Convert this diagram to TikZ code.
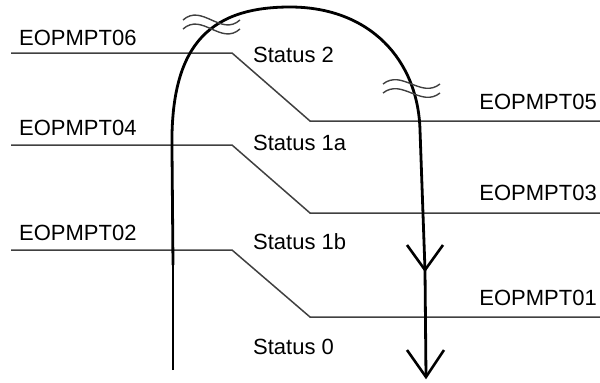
\documentclass[tikz,border=0pt]{standalone}
\usepackage{fontspec}
\setmainfont{Liberation Sans}
\begin{document}
\begin{tikzpicture}[x=1bp,y=-1bp,
  lbl/.style={inner sep=0pt,font=\fontsize{22bp}{26bp}\selectfont},
  border/.style={line width=1.5bp,draw=black!75},
  flow/.style={line width=2.8bp,draw=black,line join=round},
  thinflow/.style={line width=1.8bp,draw=black},
  barb/.style={line width=2.6bp,draw=black,line join=miter},
  wave/.style={line width=1.4bp,draw=black!75}]
\useasboundingbox (0,0) rectangle (600,382);
% boundary lines
\coordinate (a1) at (11,53);  \coordinate (b1) at (232,53);  \coordinate (c1) at (310,121); \coordinate (d1) at (600,121);
\coordinate (a2) at (11,145); \coordinate (b2) at (232,145); \coordinate (c2) at (310,213); \coordinate (d2) at (600,213);
\coordinate (a3) at (11,250); \coordinate (b3) at (232,250); \coordinate (c3) at (310,317); \coordinate (d3) at (600,317);
\draw[border] (a1) -- (b1) -- (c1) -- (d1);
\draw[border] (a2) -- (b2) -- (c2) -- (d2);
\draw[border] (a3) -- (b3) -- (c3) -- (d3);
% labels
\node[lbl,anchor=west] (p06) at (19,38) {EOPMPT06};
\node[lbl,anchor=west] (p04) at (19,128) {EOPMPT04};
\node[lbl,anchor=west] (p02) at (19,233) {EOPMPT02};
\node[lbl,anchor=east] (p05) at (597,102) {EOPMPT05};
\node[lbl,anchor=east] (p03) at (597,193) {EOPMPT03};
\node[lbl,anchor=east] (p01) at (597,298) {EOPMPT01};
\node[lbl,anchor=west] (s2) at (253,55) {Status 2};
\node[lbl,anchor=west] (s1a) at (253,143) {Status 1a};
\node[lbl,anchor=west] (s1b) at (253,242) {Status 1b};
\node[lbl,anchor=west] (s0) at (253,347) {Status 0};
% flow curve
\coordinate (start) at (173,370);
\coordinate (join) at (173,265);
\coordinate (tip1) at (425,270);
\coordinate (tip2) at (426,377);
\draw[thinflow] (start) -- (join);
\draw[flow] (join) -- (172,150) .. controls (170,50) and (205,7) .. (290,7)
  .. controls (370,7) and (418,60) .. (420,130) -- (tip1) -- (tip2);
% arrow heads
\draw[barb] (407,245) -- (tip1) -- (443,245);
\draw[barb] (407,350) -- (tip2) -- (444,350);
% break marks
\draw[wave] (183,20) .. controls (202,3) and (221,37) .. (240,20);
\draw[wave] (183,29) .. controls (202,12) and (221,46) .. (240,29);
\draw[wave] (383,84) .. controls (402,69) and (421,99) .. (440,84);
\draw[wave] (383,93) .. controls (402,78) and (421,108) .. (440,93);
\end{tikzpicture}
\end{document}
